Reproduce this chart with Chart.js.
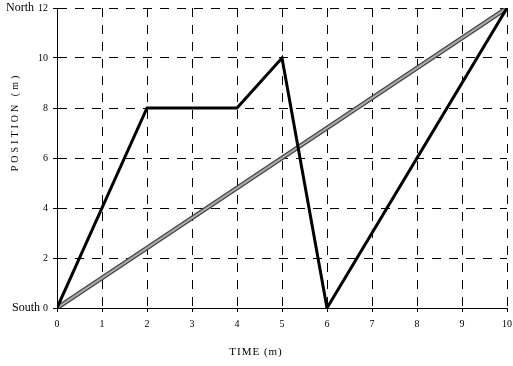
<!DOCTYPE html>
<html>
<head>
<meta charset="utf-8">
<script src="https://cdn.jsdelivr.net/npm/chart.js@4"></script>
<style>
  html, body { margin: 0; padding: 0; background: #fff; }
  #wrap { width: 513px; height: 366px; }
</style>
</head>
<body>
<div id="wrap"><canvas id="motion"></canvas></div>
<script>
  // data
  const timeAxis = [0, 2, 4, 5, 6, 10];
  const position = [0, 8, 8, 10, 0, 12];
  const constTime = [0, 10];
  const constPosition = [0, 12];

  const toPoints = (xs, ys) => xs.map((x, i) => ({ x: x, y: ys[i] }));
  const serif = "'Liberation Serif', 'DejaVu Serif', serif";

  // titles and the North / South words sit off-centre in the original,
  // so they are drawn by hand here
  const axisText = {
    id: "axisText",
    afterDraw(chart) {
      const ctx = chart.ctx;
      const y = chart.scales.y;
      ctx.save();
      ctx.fillStyle = "#000";
      ctx.textBaseline = "middle";

      ctx.font = "12px " + serif;
      ctx.textAlign = "right";
      ctx.fillText("South", 40, y.getPixelForValue(0));
      ctx.fillText("North", 34, y.getPixelForValue(12));

      ctx.textAlign = "center";
      ctx.font = "11px " + serif;
      ctx.letterSpacing = "1px";
      ctx.fillText("TIME (m)", 256, 352);

      ctx.translate(15, 122);
      ctx.rotate(-Math.PI / 2);
      ctx.font = "10px " + serif;
      ctx.letterSpacing = "3px";
      ctx.fillText("POSITION (m)", 0, 0);
      ctx.restore();
    },
  };

  const motion = document.getElementById("motion");
  new Chart(motion, {
    type: "scatter",
    plugins: [axisText],
    data: {
      datasets: [
        {
          label: "walk",
          data: toPoints(timeAxis, position),
          showLine: true,
          borderColor: "#000",
          borderWidth: 3,
          pointRadius: 0,
          order: 0,
        },
        {
          label: "steady",
          data: toPoints(constTime, constPosition),
          showLine: true,
          borderColor: "#aaa",
          borderWidth: 2,
          pointRadius: 0,
          order: 1,
        },
        {
          label: "steady edge",
          data: toPoints(constTime, constPosition),
          showLine: true,
          borderColor: "#444",
          borderWidth: 4.5,
          pointRadius: 0,
          order: 2,
        },
      ],
    },
    options: {
      responsive: true,
      maintainAspectRatio: false,
      animation: false,
      layout: {
        padding: { top: 8, right: 6, left: 0, bottom: 0 },
      },
      scales: {
        x: {
          type: "linear",
          min: 0,
          max: 10,
          afterFit: function (scale) {
            scale.height = 58;
            scale.paddingLeft = 0;
            scale.paddingRight = 0;
          },
          ticks: {
            stepSize: 1,
            color: "#000",
            padding: 6,
            font: { family: serif, size: 10 },
          },
          grid: {
            color: "#000",
            lineWidth: 1,
            tickLength: 4,
            tickColor: "#000",
            tickBorderDash: [],
          },
          border: { display: true, color: "#000", width: 1, dash: [9, 8] },
        },
        y: {
          type: "linear",
          min: 0,
          max: 12,
          afterFit: function (scale) {
            scale.width = 57;
            scale.paddingTop = 0;
            scale.paddingBottom = 0;
          },
          ticks: {
            stepSize: 2,
            color: "#000",
            padding: 5,
            font: { family: serif, size: 10 },
          },
          grid: {
            color: "#000",
            lineWidth: 1,
            tickLength: 4,
            tickColor: "#000",
            tickBorderDash: [],
          },
          border: { display: true, color: "#000", width: 1, dash: [9, 8] },
        },
      },
      plugins: {
        legend: { display: false },
        tooltip: { enabled: false },
      },
    },
  });
</script>
</body>
</html>
